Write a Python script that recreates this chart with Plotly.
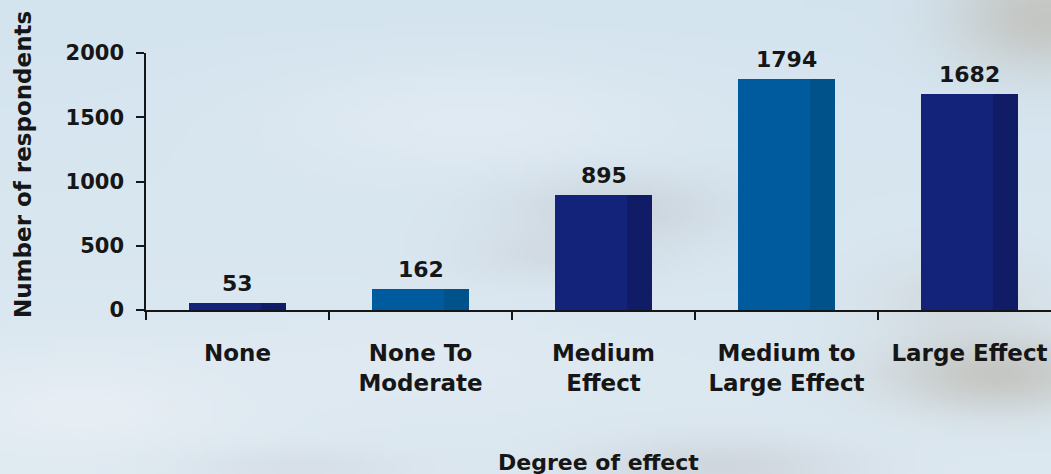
import base64
import struct
import zlib

import numpy as np
import plotly.graph_objects as go

# ---- data -------------------------------------------------------------
categories = ["None", "None To<br>Moderate", "Medium<br>Effect",
              "Medium to<br>Large Effect", "Large Effect"]
respondents = [53, 162, 895, 1794, 1682]
y_ticks = [0, 500, 1000, 1500, 2000]

NAVY, NAVY_DARK = "#13237a", "#101d66"
BLUE, BLUE_DARK = "#005b9e", "#00528a"
face_colors = [NAVY, BLUE, NAVY, BLUE, NAVY]
side_colors = [NAVY_DARK, BLUE_DARK, NAVY_DARK, BLUE_DARK, NAVY_DARK]

W, H = 1051, 474
M_L, M_R, M_T, M_B = 146, 0, 53, 164
PW, PH = W - M_L - M_R, H - M_T - M_B
FONT = "DejaVu Sans"
INK = "#161616"


# ---- soft sky backdrop, encoded as a small PNG ------------------------
def sky_png(w=211, h=95):
    ys, xs = np.mgrid[0:h, 0:w].astype(float)
    px = xs / (w - 1) * W
    py = ys / (h - 1) * H
    t = py / H
    top = np.array([212, 228, 239.0])
    bot = np.array([221, 233, 241.0])
    img = top[None, None, :] * (1 - t[..., None]) + bot[None, None, :] * t[..., None]

    def blob(cx, cy, rx, ry, color, amt):
        g = np.exp(-(((px - cx) / rx) ** 2 + ((py - cy) / ry) ** 2))[..., None] * amt
        return img * (1 - g) + np.array(color, float)[None, None, :] * g

    img = blob(80, 410, 160, 60, (236, 240, 245), 0.7)
    img = blob(470, 120, 200, 60, (232, 238, 245), 0.6)
    img = blob(420, 360, 200, 50, (230, 235, 242), 0.5)
    img = blob(620, 210, 110, 35, (198, 203, 210), 0.6)
    img = blob(560, 255, 90, 25, (205, 209, 216), 0.5)
    img = blob(1045, 15, 90, 55, (188, 183, 172), 0.65)
    img = blob(1000, 375, 110, 40, (186, 182, 172), 0.65)
    img = blob(960, 300, 90, 40, (204, 206, 208), 0.45)
    img = blob(720, 470, 140, 30, (198, 200, 207), 0.55)
    img = blob(300, 470, 120, 20, (206, 211, 219), 0.4)
    img = np.clip(img, 0, 255).astype(np.uint8)

    raw = b"".join(b"\x00" + img[r].tobytes() for r in range(h))

    def chunk(tag, data):
        c = struct.pack(">I", len(data)) + tag + data
        return c + struct.pack(">I", zlib.crc32(tag + data) & 0xFFFFFFFF)

    png = (b"\x89PNG\r\n\x1a\n"
           + chunk(b"IHDR", struct.pack(">IIBBBBB", w, h, 8, 2, 0, 0, 0))
           + chunk(b"IDAT", zlib.compress(raw, 9))
           + chunk(b"IEND", b""))
    return "data:image/png;base64," + base64.b64encode(png).decode()


# ---- bars: lit face plus a darker right-hand side ---------------------
fig = go.Figure()
fig.add_trace(go.Bar(
    x=categories, y=respondents, width=0.53, offset=-0.265,
    marker=dict(color=face_colors, line=dict(width=0)),
    hoverinfo="x+y", showlegend=False,
))
fig.add_trace(go.Bar(
    x=categories, y=respondents, width=0.135, offset=0.13,
    marker=dict(color=side_colors, line=dict(width=0)),
    hoverinfo="skip", showlegend=False,
))

# value labels above each bar
for cat, val in zip(categories, respondents):
    fig.add_annotation(
        x=cat, y=val, text=str(val), showarrow=False,
        xanchor="center", yanchor="bottom", yshift=5,
        font=dict(family=FONT, size=22, color=INK, weight="bold"),
    )

# axis titles
fig.add_annotation(
    xref="paper", yref="paper", x=(23 - M_L) / PW, y=(H - M_B - 165) / PH,
    text="Number of respondents", textangle=-90, showarrow=False,
    xanchor="center", yanchor="middle",
    font=dict(family=FONT, size=23, color=INK, weight="bold"),
)
fig.add_annotation(
    xref="paper", yref="paper", x=0.5, y=(H - M_B - 462) / PH,
    text="Degree of effect", showarrow=False,
    xanchor="center", yanchor="middle",
    font=dict(family=FONT, size=22, color=INK, weight="bold"),
)

fig.update_layout(
    width=W, height=H,
    margin=dict(l=M_L, r=M_R, t=M_T, b=M_B, pad=0),
    barmode="overlay", bargap=0,
    paper_bgcolor="#d8e6ef", plot_bgcolor="rgba(0,0,0,0)",
    images=[dict(
        source=sky_png(), xref="paper", yref="paper",
        x=-M_L / PW, y=1 + M_T / PH, sizex=W / PW, sizey=H / PH,
        xanchor="left", yanchor="top", sizing="stretch", layer="below",
    )],
    xaxis=dict(
        type="category", range=[-0.5, -0.5 + PW / 183.0],
        tickson="boundaries", ticks="outside", ticklen=8, tickwidth=1.5,
        tickcolor=INK, showline=True, linecolor=INK, linewidth=1.5,
        showgrid=False, zeroline=False, ticklabelstandoff=22,
        tickfont=dict(family=FONT, size=23, color=INK, weight="bold"),
    ),
    yaxis=dict(
        range=[0, 2000], tickvals=y_ticks, ticks="outside", ticklen=8,
        tickwidth=1.5, tickcolor=INK, showline=True, linecolor=INK,
        linewidth=1.5, showgrid=False, zeroline=False, ticklabelstandoff=8,
        tickfont=dict(family=FONT, size=21, color=INK, weight="bold"),
    ),
)

fig.write_html("out.html")
